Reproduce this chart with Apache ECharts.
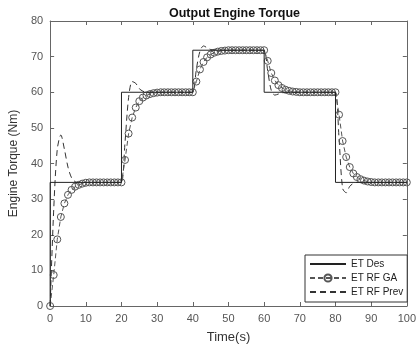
<!DOCTYPE html>
<html>
<head>
<meta charset="utf-8">
<script src="https://cdn.jsdelivr.net/npm/echarts@6/dist/echarts.min.js"></script>
<style>
  html, body { margin: 0; padding: 0; background: #fff; }
  #chart { width: 419px; height: 349px; }
</style>
</head>
<body>
<div id="chart"></div>
<script>
// desired torque steps (time, torque)
const desTime = [0, 0, 20, 20, 40, 40, 60, 60, 80, 80, 100];
const desTorque = [0, 34.7, 34.7, 60, 60, 71.8, 71.8, 60, 60, 34.7, 34.7];

// responses sampled every 1 s from t = 0 to t = 100
const gaTorque = [
    0, 8.7, 18.7, 25.0, 28.8, 31.2, 32.6, 33.5, 34.0, 34.35, 34.6,
    34.7, 34.7, 34.7, 34.7, 34.7, 34.7, 34.7, 34.7, 34.7, 34.7,
    41.0, 48.4, 52.9, 55.7, 57.5, 58.5, 59.1, 59.5, 59.75, 59.9,
    60, 60, 60, 60, 60, 60, 60, 60, 60, 60,
    63.0, 66.4, 68.5, 69.8, 70.6, 71.1, 71.4, 71.6, 71.7, 71.8,
    71.8, 71.8, 71.8, 71.8, 71.8, 71.8, 71.8, 71.8, 71.8, 71.8,
    68.8, 65.4, 63.3, 62.0, 61.2, 60.7, 60.4, 60.2, 60.1, 60.0,
    60, 60, 60, 60, 60, 60, 60, 60, 60, 60,
    53.7, 46.3, 41.8, 39.0, 37.2, 36.2, 35.6, 35.2, 34.95, 34.8,
    34.7, 34.7, 34.7, 34.7, 34.7, 34.7, 34.7, 34.7, 34.7, 34.7
];
const prevTorque = [
    0, 27, 44, 48, 44, 39, 36, 34.9, 34.5, 34.6, 34.7,
    34.7, 34.7, 34.7, 34.7, 34.7, 34.7, 34.7, 34.7, 34.7, 34.7,
    46, 58.5, 63, 62.5, 61, 60.3, 60, 60, 60, 60,
    60, 60, 60, 60, 60, 60, 60, 60, 60, 60,
    66.5, 71.5, 73, 72.5, 72, 71.8, 71.8, 71.8, 71.8, 71.8,
    71.8, 71.8, 71.8, 71.8, 71.8, 71.8, 71.8, 71.8, 71.8, 71.8,
    66, 60.5, 59.2, 59.5, 59.8, 60, 60, 60, 60, 60,
    60, 60, 60, 60, 60, 60, 60, 60, 60, 60,
    47, 33, 31.8, 33.6, 34.4, 34.7, 34.7, 34.7, 34.7, 34.7,
    34.7, 34.7, 34.7, 34.7, 34.7, 34.7, 34.7, 34.7, 34.7, 34.7
];

const seriesNames = ['ET Des', 'ET RF GA', 'ET RF Prev'];

const font = 'Arial, "Liberation Sans", sans-serif';
const axisGray = '#666';
const labelStyle = {color: '#555', fontSize: 11, fontFamily: font};

const desData = desTime.map((t, i) => [t, desTorque[i]]);
const gaData = gaTorque.map((v, i) => [i, v]);
const prevData = prevTorque.map((v, i) => [i, v]);

const baseX = {
    type: 'value',
    min: 0,
    max: 100,
    interval: 10,
    splitLine: {show: false},
    axisLine: {show: true, onZero: false, lineStyle: {color: axisGray, width: 1}},
    axisTick: {show: true, inside: true, length: 4, lineStyle: {color: axisGray}}
};
const baseY = {
    type: 'value',
    min: 0,
    max: 80,
    interval: 10,
    splitLine: {show: false},
    axisLine: {show: true, onZero: false, lineStyle: {color: axisGray, width: 1}},
    axisTick: {show: true, inside: true, length: 4, lineStyle: {color: axisGray}}
};

const chart = echarts.init(document.getElementById('chart'));
chart.setOption({
    animation: false,
    backgroundColor: '#fff',
    title: {
        text: 'Output Engine Torque',
        left: 164,
        top: 2,
        textStyle: {fontSize: 12.5, fontWeight: 'bold', color: '#111', fontFamily: font}
    },
    grid: {left: 48, right: 4, top: 21, bottom: 40},
    legend: {
        data: [
            {name: seriesNames[0], itemStyle: {opacity: 0}},
            {name: seriesNames[1]},
            {name: seriesNames[2], itemStyle: {opacity: 0}}
        ],
        orient: 'vertical',
        left: 305,
        top: 255,
        padding: [4, 4, 5, 4],
        itemGap: 4,
        itemWidth: 36,
        itemHeight: 9,
        backgroundColor: '#fff',
        borderColor: '#333',
        borderWidth: 1,
        borderRadius: 0,
        textStyle: {fontSize: 10, color: '#222', fontFamily: font}
    },
    xAxis: [
        Object.assign({}, baseX, {
            position: 'bottom',
            name: 'Time(s)',
            nameLocation: 'middle',
            nameGap: 25,
            nameTextStyle: {fontSize: 13, color: '#333', fontFamily: font},
            axisLabel: Object.assign({margin: 7}, labelStyle)
        }),
        Object.assign({}, baseX, {position: 'top', axisLabel: {show: false}})
    ],
    yAxis: [
        Object.assign({}, baseY, {
            position: 'left',
            name: 'Engine Torque (Nm)',
            nameLocation: 'middle',
            nameGap: 19,
            nameTextStyle: {fontSize: 12, color: '#333', fontFamily: font},
            axisLabel: Object.assign({margin: 7}, labelStyle)
        }),
        Object.assign({}, baseY, {position: 'right', axisLabel: {show: false}})
    ],
    series: [
        {
            name: seriesNames[0],
            type: 'line',
            data: desData,
            symbol: 'none',
            lineStyle: {color: '#222', width: 1},
            itemStyle: {color: '#222'},
            z: 3
        },
        {
            name: seriesNames[1],
            type: 'line',
            data: gaData,
            symbol: 'circle',
            symbolSize: 7,
            showAllSymbol: true,
            lineStyle: {color: '#555', width: 1, type: [5, 3]},
            itemStyle: {color: 'rgba(255,255,255,0)', borderColor: '#555', borderWidth: 1},
            z: 2
        },
        {
            name: seriesNames[2],
            type: 'line',
            data: prevData,
            symbol: 'none',
            smooth: 0.3,
            lineStyle: {color: '#333', width: 1, type: [6, 4]},
            itemStyle: {color: '#333'},
            z: 1
        }
    ]
});
</script>
</body>
</html>
